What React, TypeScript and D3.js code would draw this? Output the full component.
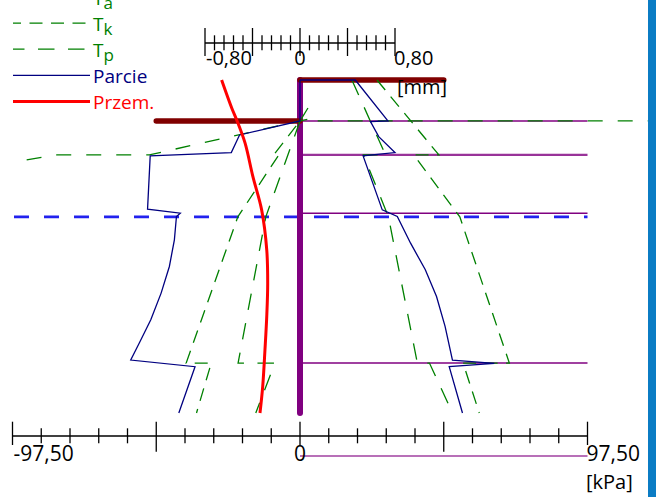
import React from "react";
import * as d3 from "d3";

const W = 656;
const H = 497;

// Axis extents and labels
const kpaDomain: [number, number] = [-97.5, 97.5];
const kpaStep = 9.75;
const kpaLabels = ["-97,50", "0", "97,50"];
const mmDomain: [number, number] = [-0.8, 0.8];
const mmStep = 0.08;
const mmLabels = ["-0,80", "0", "0,80"];

// Wall geometry and soil profile [m]
const wallDepth: [number, number] = [0, 10];
const layerDepths = [1.23, 2.25, 4.0, 8.5];
const waterDepth = 4.11;

// Loads acting on the wall [kPa, depth]
const loadTop: [number, number][] = [[0, 0], [48.75, 0]];
const loadLeft: [number, number][] = [[-48.75, 1.23], [0, 1.23]];

// Parcie – resulting pressure [kPa, depth]
const parcieLeft: [number, number][] = [
  [0, 0], [0, 1.23], [-20.5, 1.65], [-23.3, 2.18], [-50.8, 2.28], [-51.7, 3.88],
  [-40.6, 4.0], [-41.9, 4.1], [-42.6, 4.8], [-44.3, 5.6], [-47.1, 6.4], [-50.6, 7.2],
  [-54.5, 7.9], [-57.4, 8.41], [-35.6, 8.61], [-41.1, 10.0],
];
const parcieRight: [number, number][] = [
  [0, 0], [18.75, 0], [29.8, 1.23], [23.9, 1.25], [26.7, 1.7], [32.2, 2.18],
  [21.4, 2.28], [27.9, 3.9], [33.0, 4.1], [37.5, 4.9], [42.5, 5.7], [46.3, 6.5],
  [49.2, 7.4], [51.7, 8.41], [65.9, 8.51], [50.6, 8.61], [55.1, 10.0],
];

// Ta, Tk, Tp pressure diagrams [kPa, depth]
const taLeft: [number, number][] = [
  [-92.7, 2.4], [-82.5, 2.25], [-51.1, 2.25], [0, 1.23], [4.1, 1.15],
];
const taRight: [number, number][] = [[6, 1.23], [119, 1.23]];
const tkLeft: [number, number][] = [
  [2.7, 0.84], [0, 1.23], [-8.9, 2.25], [-7.2, 2.25], [-21.1, 4.11],
  [-38.6, 8.5], [-30.1, 8.5], [-35.1, 10.0],
];
const tkRight: [number, number][] = [
  [26.1, 0], [47.1, 2.25], [38.6, 2.25], [54.2, 4.11], [71.0, 8.5],
  [55.3, 8.5], [60.8, 10.0],
];
const tpLeft: [number, number][] = [
  [0, 1.23], [-11.6, 4.11], [-21.0, 8.5], [-8.5, 8.5], [-15.0, 10.0],
];
const tpRight: [number, number][] = [
  [17.6, 0], [29.0, 2.25], [21.5, 2.25], [30.0, 4.11], [39.8, 8.5],
  [43.9, 8.5], [51.7, 10.0],
];

// Przem. – wall displacement [mm, depth]
const przem: [number, number][] = [
  [-0.66, 0], [-0.575, 0.84], [-0.533, 1.2], [-0.463, 1.89], [-0.396, 2.91],
  [-0.323, 3.9], [-0.28, 5.1], [-0.272, 6.1], [-0.28, 7.1], [-0.295, 8.1],
  [-0.314, 9.2], [-0.337, 10.0],
];

const GREEN = "#008000";
const NAVY = "#000080";
const RED = "#ff0000";
const PURPLE = "#800080";
const MAROON = "#800000";
const FONT = "'Open Sans', 'Noto Sans', sans-serif";

const DASH_TA = "15,15";
const DASH_TK = "13,8.5";
const DASH_TP = "16.5,13.5";

type LegendItem = { main: string; sub?: string; color: string; width: number; dash?: string };
const legendItems: LegendItem[] = [
  { main: "T", sub: "a", color: GREEN, width: 1.3, dash: DASH_TA },
  { main: "T", sub: "k", color: GREEN, width: 1.3, dash: DASH_TK },
  { main: "T", sub: "p", color: GREEN, width: 1.3, dash: DASH_TP },
  { main: "Parcie", color: NAVY, width: 1.3 },
  { main: "Przem.", color: RED, width: 3 },
];

export default function App() {
  const x = d3.scaleLinear().domain(kpaDomain).range([12.5, 587.5]);
  const xm = d3.scaleLinear().domain(mmDomain).range([205, 395]);
  const y = d3.scaleLinear().domain(wallDepth).range([80, 413]);

  const line = d3
    .line<[number, number]>()
    .x((d) => x(d[0]))
    .y((d) => y(d[1]));
  const lineMm = d3
    .line<[number, number]>()
    .x((d) => xm(d[0]))
    .y((d) => y(d[1]))
    .curve(d3.curveCatmullRom.alpha(0.5));

  const bottomY = 436;
  const topY = 43;

  const kpaTicks = d3.range(0, 21).map((i) => kpaDomain[0] + i * kpaStep);
  const mmTicks = d3.range(0, 21).map((i) => mmDomain[0] + i * mmStep);

  const kpaTickSpan = (i: number): [number, number] => {
    if (i % 5 !== 0) return [-7.7, 7.3];
    if (i === 5 || i === 15) return [-14.3, 15.7];
    return [-14.3, 9];
  };
  const mmTickSpan = (i: number): [number, number] => {
    if (i % 5 !== 0) return [-7.7, 7.3];
    return [-15, 13];
  };

  const labelPos = (scale: d3.ScaleLinear<number, number>, dom: [number, number]) => [
    { x: scale(dom[0]) + 1, anchor: "start" },
    { x: scale(0), anchor: "middle" },
    { x: scale(dom[1]) - 1, anchor: "start" },
  ];

  const greenStyle = { fill: "none", stroke: GREEN, strokeWidth: 1.3 };

  return (
    <svg
      width={W}
      height={H}
      style={{ position: "absolute", left: 0, top: 0, background: "#fff" }}
      fontFamily={FONT}
    >
      <rect x={0} y={0} width={W} height={H} fill="#fff" />

      {/* soil layer boundaries */}
      {layerDepths.map((d, i) => (
        <line
          key={`layer-${i}`}
          x1={x(0)}
          x2={x(kpaDomain[1])}
          y1={y(d)}
          y2={y(d)}
          stroke={i === 1 ? "#993399" : PURPLE}
          strokeWidth={i === 1 ? 2.2 : 1.4}
        />
      ))}

      {/* ground water table */}
      <line
        x1={x(kpaDomain[0]) + 1.5}
        x2={x(kpaDomain[1])}
        y1={y(waterDepth)}
        y2={y(waterDepth)}
        stroke="#2222ee"
        strokeWidth={2.8}
        strokeDasharray="15,15"
      />

      {/* wall */}
      <line
        x1={x(0)}
        x2={x(0)}
        y1={y(wallDepth[0])}
        y2={y(wallDepth[1])}
        stroke={PURPLE}
        strokeWidth={6}
        strokeLinecap="round"
      />

      {/* loads */}
      <path d={line(loadTop) ?? ""} stroke={MAROON} strokeWidth={5.5} strokeLinecap="round" fill="none" />
      <path d={line(loadLeft) ?? ""} stroke={MAROON} strokeWidth={5.5} strokeLinecap="round" fill="none" />

      {/* Ta, Tk, Tp */}
      <path d={line(taLeft) ?? ""} {...greenStyle} strokeDasharray={DASH_TA} />
      <path d={line(taRight) ?? ""} {...greenStyle} strokeDasharray={DASH_TA} />
      <path d={line(tkLeft) ?? ""} {...greenStyle} strokeDasharray={DASH_TK} />
      <path d={line(tkRight) ?? ""} {...greenStyle} strokeDasharray={DASH_TK} />
      <path d={line(tpLeft) ?? ""} {...greenStyle} strokeDasharray={DASH_TP} />
      <path d={line(tpRight) ?? ""} {...greenStyle} strokeDasharray={DASH_TP} />

      {/* Parcie */}
      <path d={line(parcieLeft) ?? ""} fill="none" stroke={NAVY} strokeWidth={1.3} />
      <path d={line(parcieRight) ?? ""} fill="none" stroke={NAVY} strokeWidth={1.3} />

      {/* Przem. */}
      <path d={lineMm(przem) ?? ""} fill="none" stroke={RED} strokeWidth={3} />

      {/* displacement axis [mm] */}
      <g>
        <line x1={xm(mmDomain[0])} x2={xm(mmDomain[1])} y1={topY} y2={topY} stroke="#000" strokeWidth={1.5} />
        {mmTicks.map((t, i) => {
          const [a, b] = mmTickSpan(i);
          return (
            <line key={`mt-${i}`} x1={xm(t)} x2={xm(t)} y1={topY + a} y2={topY + b} stroke="#000" strokeWidth={1.3} />
          );
        })}
        {labelPos(xm, mmDomain).map((p, i) => (
          <text key={`ml-${i}`} x={p.x} y={65} fontSize={20} textAnchor={p.anchor as any} fill="#000">
            {mmLabels[i]}
          </text>
        ))}
        <text x={397} y={94} fontSize={20} fill="#000">[mm]</text>
      </g>

      {/* pressure axis [kPa] */}
      <g>
        <line x1={x(kpaDomain[0])} x2={x(kpaDomain[1])} y1={bottomY} y2={bottomY} stroke="#000" strokeWidth={1.5} />
        {kpaTicks.map((t, i) => {
          const [a, b] = kpaTickSpan(i);
          return (
            <line key={`kt-${i}`} x1={x(t)} x2={x(t)} y1={bottomY + a} y2={bottomY + b} stroke="#000" strokeWidth={1.3} />
          );
        })}
        <line x1={x(0)} x2={x(kpaDomain[1])} y1={bottomY + 20} y2={bottomY + 20} stroke="#a040a0" strokeWidth={1.5} />
        {labelPos(x, kpaDomain).map((p, i) => (
          <text key={`kl-${i}`} x={p.x} y={461} fontSize={21} textAnchor={p.anchor as any} fill="#000">
            {kpaLabels[i]}
          </text>
        ))}
        <text x={586} y={489} fontSize={20} fill="#000">[kPa]</text>
      </g>

      {/* legend */}
      <g>
        {legendItems.map((it, i) => {
          const ly = -3 + i * 26.1;
          return (
            <g key={`lg-${i}`}>
              <line
                x1={13}
                x2={90}
                y1={ly}
                y2={ly}
                stroke={it.color}
                strokeWidth={it.width}
                strokeDasharray={it.dash}
                strokeDashoffset={it.dash ? 5 : 0}
              />
              <text x={93} y={ly + 7.5} fontSize={19} fill={it.color}>
                {it.main}
                {it.sub ? (
                  <tspan dy={4} fontSize={17}>
                    {it.sub}
                  </tspan>
                ) : null}
              </text>
            </g>
          );
        })}
      </g>

      {/* window edge */}
      <rect x={648} y={0} width={8} height={H} fill="#0b7cc4" />
    </svg>
  );
}
